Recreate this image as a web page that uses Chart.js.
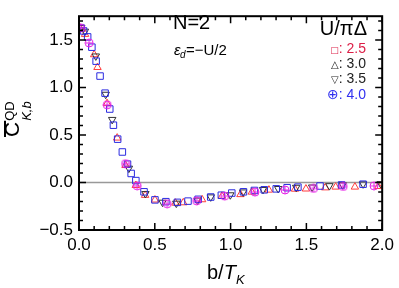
<!DOCTYPE html>
<html>
<head>
<meta charset="utf-8">
<script src="https://cdn.jsdelivr.net/npm/chart.js@4"></script>
<style>
  body { margin: 0; background: #fff; }
  canvas { display: block; }
</style>
</head>
<body>
<canvas id="chartQD" width="399" height="288"></canvas>
<script>
// Données : b/T_K et C_K,b
const bSquare = [0.014, 0.03, 0.057, 0.085, 0.113, 0.139, 0.172, 0.203, 0.227, 0.255, 0.286, 0.320, 0.344, 0.375, 0.429, 0.501, 0.573, 0.649, 0.719, 0.786, 0.869, 0.939, 1.008, 1.085, 1.157, 1.222, 1.301, 1.373, 1.444, 1.590, 1.732, 1.874];
const cSquare = [1.625, 1.595, 1.532, 1.424, 1.277, 1.120, 0.940, 0.773, 0.603, 0.456, 0.321, 0.193, 0.095, 0.020, -0.098, -0.183, -0.202, -0.209, -0.196, -0.177, -0.153, -0.134, -0.111, -0.098, -0.084, -0.077, -0.067, -0.055, -0.049, -0.037, -0.026, -0.018];

const bUp = [0.007, 0.040, 0.100, 0.122, 0.185, 0.252, 0.307, 0.375, 0.436, 0.501, 0.636, 0.688, 0.812, 0.943, 1.065, 1.140, 1.253, 1.425, 1.497, 1.624, 1.693, 1.820, 1.975];
const cUp = [1.625, 1.560, 1.346, 1.212, 0.832, 0.469, 0.180, -0.030, -0.134, -0.183, -0.216, -0.212, -0.180, -0.143, -0.126, -0.100, -0.079, -0.069, -0.067, -0.055, -0.047, -0.047, -0.040];

const bDown = [0.015, 0.039, 0.111, 0.176, 0.219, 0.329, 0.438, 0.551, 0.642, 0.782, 0.869, 0.998, 1.083, 1.214, 1.314, 1.433, 1.538, 1.652, 1.739, 1.874, 1.990];
const cDown = [1.630, 1.591, 1.330, 0.927, 0.662, 0.149, -0.118, -0.209, -0.219, -0.187, -0.153, -0.131, -0.101, -0.075, -0.065, -0.052, -0.049, -0.035, -0.026, -0.016, -0.013];

const bCircle = [0.010, 0.067, 0.186, 0.307, 0.384, 0.582, 0.776, 0.961, 1.161, 1.359, 1.547, 1.743, 1.946];
const cCircle = [1.628, 1.468, 0.817, 0.198, -0.035, -0.224, -0.193, -0.143, -0.101, -0.079, -0.062, -0.042, -0.035];

const xTicks = [0, 0.5, 1.0, 1.5, 2.0];
const yTicks = [-0.5, 0, 0.5, 1.0, 1.5];

const legendSymbols = ["\u25A1", "\u25B3", "\u25BD", "\u2295"];
const legendValues = [": 2.5", ": 3.0", ": 3.5", ": 4.0"];
const legendColors = ["#dc1e46", "#222222", "#222222", "#3030f0"];

function toPoints(xs, ys) {
  return xs.map((x, i) => ({ x: x, y: ys[i] }));
}

// Marqueur cercle barré (⊕)
function circlePlus(color) {
  const c = document.createElement("canvas");
  c.width = 10; c.height = 10;
  const g = c.getContext("2d");
  g.strokeStyle = color;
  g.lineWidth = 1;
  g.beginPath();
  g.arc(5, 5, 4, 0, Math.PI * 2);
  g.moveTo(1, 5); g.lineTo(9, 5);
  g.moveTo(5, 1); g.lineTo(5, 9);
  g.stroke();
  return c;
}

const FONT = "'Liberation Sans', Arial, sans-serif";

// Cadre, graduations et textes
const decorPlugin = {
  id: "decor",
  beforeDatasetsDraw(chart) {
    const { ctx, chartArea: a, scales } = chart;
    const y0 = scales.y.getPixelForValue(0);
    ctx.save();
    ctx.strokeStyle = "#999999";
    ctx.lineWidth = 1.5;
    ctx.beginPath();
    ctx.moveTo(a.left, y0);
    ctx.lineTo(a.right, y0);
    ctx.stroke();
    ctx.restore();
  },
  afterDraw(chart) {
    const { ctx, chartArea: a, scales } = chart;
    ctx.save();
    ctx.strokeStyle = "#000";
    ctx.lineWidth = 2;
    ctx.strokeRect(a.left, a.top, a.right - a.left, a.bottom - a.top);

    ctx.lineWidth = 1.5;
    ctx.beginPath();
    for (let i = 0; i <= 20; i++) {
      const px = scales.x.getPixelForValue(i / 10);
      const len = i % 5 === 0 ? 7 : 4;
      ctx.moveTo(px, a.bottom); ctx.lineTo(px, a.bottom - len);
      ctx.moveTo(px, a.top); ctx.lineTo(px, a.top + len);
    }
    for (let i = -5; i <= 17; i++) {
      const py = scales.y.getPixelForValue(i / 10);
      const len = i % 5 === 0 ? 7 : 4;
      ctx.moveTo(a.left, py); ctx.lineTo(a.left + len, py);
      ctx.moveTo(a.right, py); ctx.lineTo(a.right - len, py);
    }
    ctx.stroke();

    ctx.fillStyle = "#000";
    ctx.textBaseline = "alphabetic";

    // Titre axe x : b/T_K
    ctx.textAlign = "left";
    ctx.font = "20px " + FONT;
    let x = 207;
    ctx.fillText("b/", x, 279);
    x += ctx.measureText("b/").width;
    ctx.font = "italic 20px " + FONT;
    ctx.fillText("T", x, 279);
    x += ctx.measureText("T").width;
    ctx.font = "italic 13px " + FONT;
    ctx.fillText("K", x, 284);

    // Titre axe y : C̄_{K,b}^{QD}
    ctx.save();
    ctx.translate(19, 137);
    ctx.rotate(-Math.PI / 2);
    ctx.font = "21px " + FONT;
    ctx.fillText("C", 0, 0);
    const cw = ctx.measureText("C").width;
    ctx.lineWidth = 2;
    ctx.beginPath();
    ctx.moveTo(0, -14); ctx.lineTo(cw + 1, -14);
    ctx.stroke();
    ctx.font = "13px " + FONT;
    ctx.fillText("QD", cw + 1, -5);
    ctx.font = "italic 13px " + FONT;
    ctx.fillText("K,b", cw + 1, 12);
    ctx.restore();

    // N=2 et ε_d = −U/2
    ctx.font = "20px " + FONT;
    ctx.fillText("N=2", 173, 29);
    ctx.font = "italic 15px " + FONT;
    ctx.fillText("\u03B5", 174, 55);
    ctx.font = "italic 10px " + FONT;
    ctx.fillText("d", 180, 58);
    ctx.font = "15px " + FONT;
    ctx.fillText("=\u2212U/2", 186, 55);

    // Légende
    ctx.textAlign = "right";
    ctx.font = "20px " + FONT;
    ctx.fillText("U/\u03C0\u0394", 367, 35);
    const rows = [53, 68, 83, 99];
    const symSizes = [9, 10, 10, 14];
    legendValues.forEach((t, i) => {
      ctx.fillStyle = legendColors[i];
      ctx.font = "14px " + FONT;
      ctx.fillText(t, 366, rows[i]);
      const w = ctx.measureText(t).width;
      ctx.font = symSizes[i] + "px 'DejaVu Sans', sans-serif";
      ctx.fillText(legendSymbols[i], 366 - w, rows[i]);
    });
    ctx.restore();
  }
};

const ctxQD = document.getElementById("chartQD").getContext("2d");

const chartQD = new Chart(ctxQD, {
  type: "scatter",
  data: {
    datasets: [
      {
        label: "4.0",
        data: toPoints(bCircle, cCircle),
        pointStyle: circlePlus("#e61ee6"),
        borderColor: "#e61ee6",
        backgroundColor: "transparent"
      },
      {
        label: "2.5",
        data: toPoints(bSquare, cSquare),
        pointStyle: "rect",
        pointRadius: 4.6,
        borderColor: "#2a2ae0",
        backgroundColor: "transparent",
        borderWidth: 1
      },
      {
        label: "3.5",
        data: toPoints(bDown, cDown),
        pointStyle: "triangle",
        rotation: 180,
        pointRadius: 4.3,
        borderColor: "#333333",
        backgroundColor: "transparent",
        borderWidth: 1
      },
      {
        label: "3.0",
        data: toPoints(bUp, cUp),
        pointStyle: "triangle",
        pointRadius: 4.3,
        borderColor: "#ff3b3b",
        backgroundColor: "transparent",
        borderWidth: 1
      }
    ]
  },
  options: {
    responsive: false,
    animation: false,
    layout: { padding: { top: 1, right: 14, left: 0, bottom: 0 } },
    plugins: {
      legend: { display: false },
      tooltip: { enabled: false }
    },
    scales: {
      x: {
        type: "linear",
        min: 0,
        max: 2,
        afterFit: (s) => { s.height = 58; },
        afterBuildTicks: (s) => { s.ticks = xTicks.map(v => ({ value: v })); },
        grid: { display: false, drawTicks: false },
        border: { display: false },
        ticks: {
          padding: 5,
          color: "#000",
          font: { family: FONT, size: 17 },
          callback: (v) => v.toFixed(1)
        }
      },
      y: {
        type: "linear",
        min: -0.5,
        max: 1.75,
        afterFit: (s) => { s.width = 79; },
        afterBuildTicks: (s) => { s.ticks = yTicks.map(v => ({ value: v })); },
        grid: { display: false, drawTicks: false },
        border: { display: false },
        ticks: {
          padding: 6,
          color: "#000",
          font: { family: FONT, size: 17 },
          callback: (v) => (v < 0 ? "\u2212" + Math.abs(v).toFixed(1) : v.toFixed(1))
        }
      }
    }
  },
  plugins: [decorPlugin]
});
</script>
</body>
</html>
